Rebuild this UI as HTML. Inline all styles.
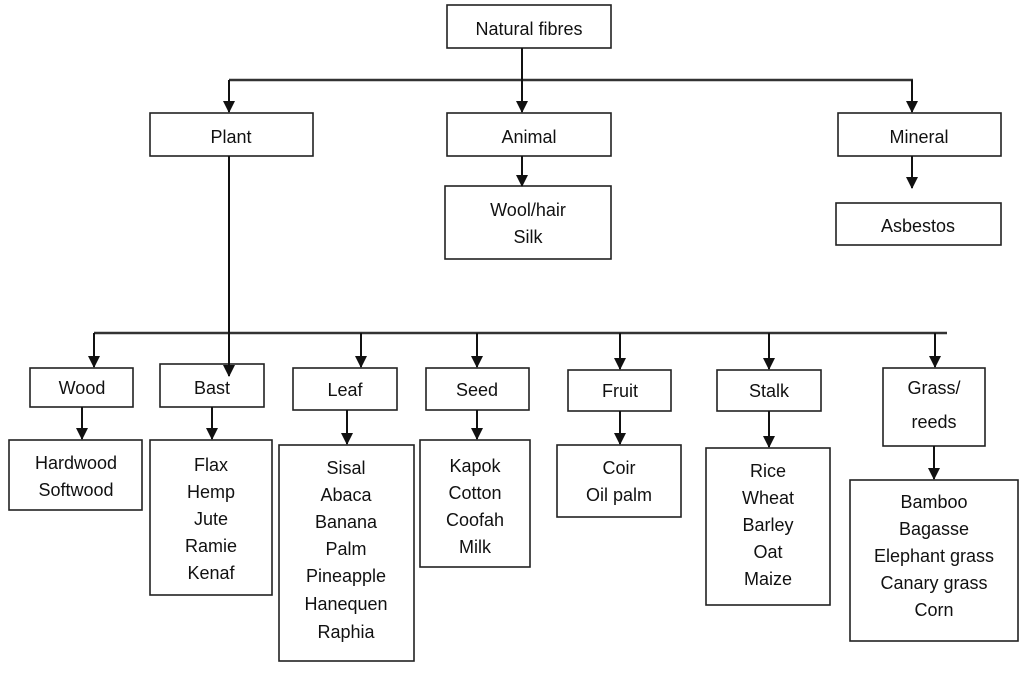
<!DOCTYPE html>
<html><head><meta charset="utf-8"><style>
html,body{margin:0;padding:0;background:#fff;}
svg text{font-family:"Liberation Sans",sans-serif;font-size:18px;fill:#111;text-anchor:middle;}
</style></head><body>
<svg width="1024" height="674" xmlns="http://www.w3.org/2000/svg">
<defs><marker id="a" markerWidth="12" markerHeight="12" refX="11" refY="6" orient="auto" markerUnits="userSpaceOnUse" viewBox="0 0 12 12"><path d="M0,0 L12,6 L0,12 Z" fill="#111"/></marker></defs>
<g fill="none" stroke="#222" stroke-width="1.6">
<rect x="447" y="5" width="164" height="43"/>
<rect x="150" y="113" width="163" height="43"/>
<rect x="447" y="113" width="164" height="43"/>
<rect x="838" y="113" width="163" height="43"/>
<rect x="445" y="186" width="166" height="73"/>
<rect x="836" y="203" width="165" height="42"/>
<rect x="30" y="368" width="103" height="39"/>
<rect x="160" y="364" width="104" height="43"/>
<rect x="293" y="368" width="104" height="42"/>
<rect x="426" y="368" width="103" height="42"/>
<rect x="568" y="370" width="103" height="41"/>
<rect x="717" y="370" width="104" height="41"/>
<rect x="883" y="368" width="102" height="78"/>
<rect x="9" y="440" width="133" height="70"/>
<rect x="150" y="440" width="122" height="155"/>
<rect x="279" y="445" width="135" height="216"/>
<rect x="420" y="440" width="110" height="127"/>
<rect x="557" y="445" width="124" height="72"/>
<rect x="706" y="448" width="124" height="157"/>
<rect x="850" y="480" width="168" height="161"/>
</g>
<g stroke="#333" stroke-width="2.5" fill="none">
<line x1="229" y1="80" x2="913" y2="80"/>
<line x1="94" y1="333" x2="947" y2="333"/>
</g>
<g stroke="#111" stroke-width="2" fill="none" marker-end="url(#a)">
<line x1="522" y1="48" x2="522" y2="112"/>
<line x1="229" y1="80" x2="229" y2="112"/>
<line x1="912" y1="80" x2="912" y2="112"/>
<line x1="522" y1="156" x2="522" y2="186"/>
<line x1="912" y1="156" x2="912" y2="188"/>
<line x1="229" y1="156" x2="229" y2="376"/>
<line x1="94" y1="333" x2="94" y2="367"/>
<line x1="361" y1="333" x2="361" y2="367"/>
<line x1="477" y1="333" x2="477" y2="367"/>
<line x1="620" y1="333" x2="620" y2="369"/>
<line x1="769" y1="333" x2="769" y2="369"/>
<line x1="935" y1="333" x2="935" y2="367"/>
<line x1="82" y1="407" x2="82" y2="439"/>
<line x1="212" y1="407" x2="212" y2="439"/>
<line x1="347" y1="410" x2="347" y2="444"/>
<line x1="477" y1="410" x2="477" y2="439"/>
<line x1="620" y1="411" x2="620" y2="444"/>
<line x1="769" y1="411" x2="769" y2="447"/>
<line x1="934" y1="446" x2="934" y2="479"/>
</g>
<text x="529" y="35">Natural fibres</text>
<text x="231" y="143">Plant</text>
<text x="529" y="143">Animal</text>
<text x="919" y="143">Mineral</text>
<text x="528" y="216">Wool/hair</text>
<text x="528" y="243">Silk</text>
<text x="918" y="232">Asbestos</text>
<text x="82" y="394">Wood</text>
<text x="212" y="394">Bast</text>
<text x="345" y="396">Leaf</text>
<text x="477" y="396">Seed</text>
<text x="620" y="397">Fruit</text>
<text x="769" y="397">Stalk</text>
<text x="934" y="394">Grass/</text>
<text x="934" y="428">reeds</text>
<text x="76" y="469">Hardwood</text>
<text x="76" y="496">Softwood</text>
<g>
<text x="211" y="471">Flax</text><text x="211" y="498">Hemp</text><text x="211" y="525">Jute</text><text x="211" y="552">Ramie</text><text x="211" y="579">Kenaf</text>
<text x="346" y="474">Sisal</text><text x="346" y="501">Abaca</text><text x="346" y="528">Banana</text><text x="346" y="555">Palm</text><text x="346" y="582">Pineapple</text><text x="346" y="610">Hanequen</text><text x="346" y="638">Raphia</text>
<text x="475" y="472">Kapok</text><text x="475" y="499">Cotton</text><text x="475" y="526">Coofah</text><text x="475" y="553">Milk</text>
<text x="619" y="474">Coir</text><text x="619" y="501">Oil palm</text>
<text x="768" y="477">Rice</text><text x="768" y="504">Wheat</text><text x="768" y="531">Barley</text><text x="768" y="558">Oat</text><text x="768" y="585">Maize</text>
<text x="934" y="508">Bamboo</text><text x="934" y="535">Bagasse</text><text x="934" y="562">Elephant grass</text><text x="934" y="589">Canary grass</text><text x="934" y="616">Corn</text>
</g>
</svg>
</body></html>
